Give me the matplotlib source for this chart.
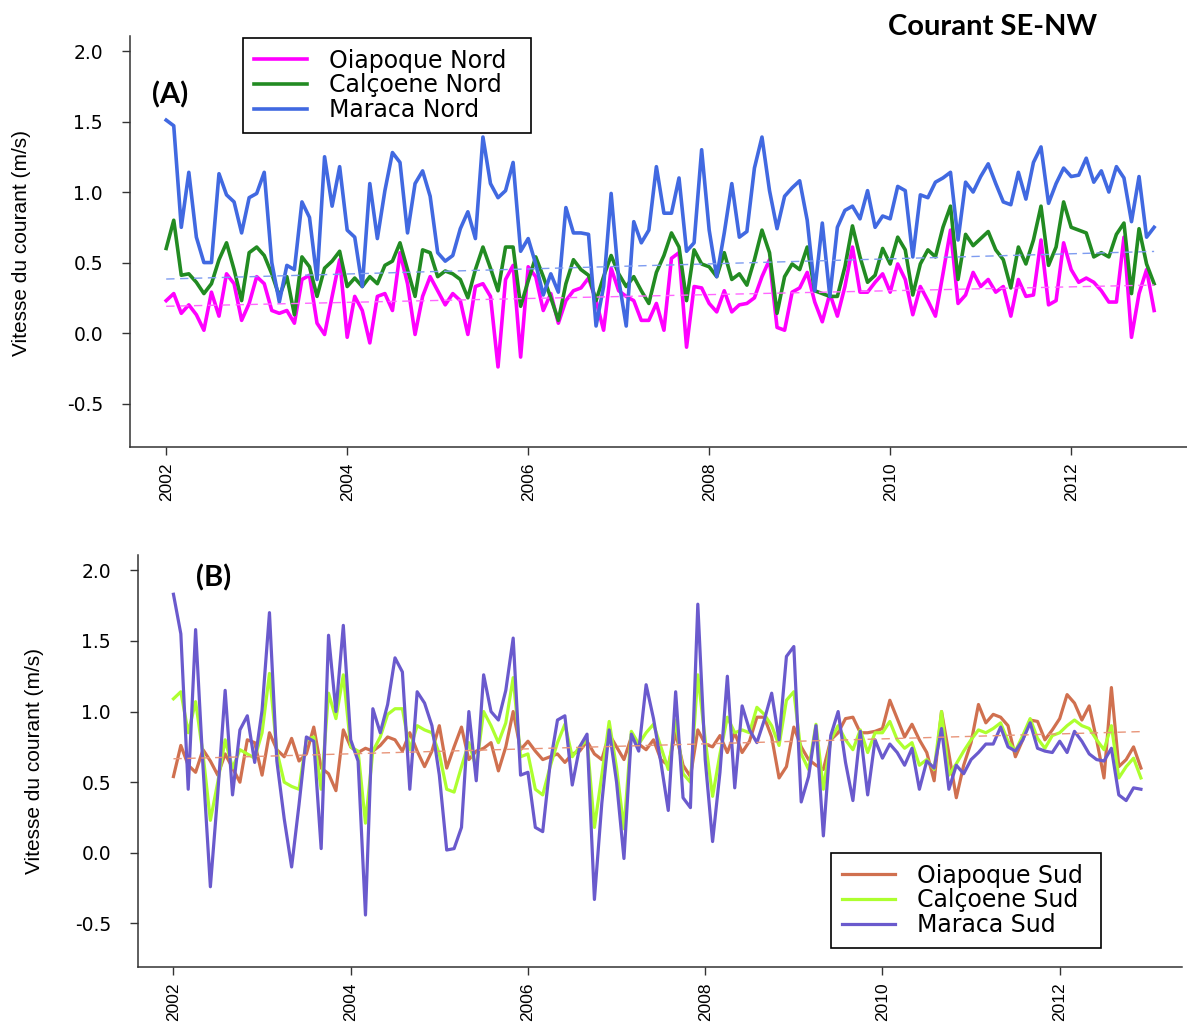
import numpy as np
import matplotlib
matplotlib.use('Agg')
import matplotlib.pyplot as plt
from matplotlib.ticker import FormatStrFormatter

plt.rcParams['axes.unicode_minus'] = False

# vitesses moyennes mensuelles, janvier 2002 - decembre 2012 (m/s)
mois = 2002 + np.arange(132) / 12.0

oiapoque_nord = [0.23, 0.28, 0.14, 0.20, 0.13, 0.02, 0.29, 0.12, 0.42, 0.35, 0.09, 0.21,
                 0.40, 0.35, 0.16, 0.14, 0.16, 0.07, 0.38, 0.41, 0.07, -0.01, 0.26, 0.52,
                 -0.03, 0.26, 0.16, -0.07, 0.26, 0.28, 0.16, 0.57, 0.35, -0.01, 0.26, 0.40,
                 0.30, 0.20, 0.28, 0.23, -0.01, 0.33, 0.35, 0.26, -0.24, 0.38, 0.48, -0.17,
                 0.47, 0.40, 0.16, 0.28, 0.07, 0.23, 0.30, 0.32, 0.39, 0.23, 0.02, 0.46,
                 0.30, 0.26, 0.23, 0.09, 0.09, 0.21, 0.02, 0.53, 0.57, -0.10, 0.33, 0.32,
                 0.21, 0.15, 0.30, 0.15, 0.20, 0.21, 0.25, 0.40, 0.52, 0.04, 0.02, 0.29,
                 0.32, 0.43, 0.22, 0.08, 0.28, 0.12, 0.33, 0.61, 0.29, 0.29, 0.36, 0.42,
                 0.29, 0.49, 0.38, 0.13, 0.33, 0.23, 0.12, 0.42, 0.73, 0.21, 0.27, 0.43,
                 0.33, 0.38, 0.29, 0.33, 0.12, 0.38, 0.26, 0.27, 0.66, 0.20, 0.23, 0.64,
                 0.45, 0.36, 0.39, 0.36, 0.30, 0.22, 0.22, 0.68, -0.03, 0.28, 0.45, 0.16]

calcoene_nord = [0.60, 0.80, 0.41, 0.42, 0.36, 0.28, 0.35, 0.52, 0.64, 0.45, 0.23, 0.57,
                 0.61, 0.55, 0.42, 0.26, 0.40, 0.13, 0.54, 0.47, 0.26, 0.46, 0.51, 0.58,
                 0.33, 0.39, 0.33, 0.40, 0.35, 0.48, 0.51, 0.64, 0.45, 0.26, 0.59, 0.57,
                 0.40, 0.44, 0.42, 0.38, 0.25, 0.45, 0.61, 0.46, 0.30, 0.61, 0.61, 0.19,
                 0.37, 0.54, 0.40, 0.25, 0.09, 0.35, 0.52, 0.45, 0.41, 0.23, 0.40, 0.55,
                 0.42, 0.33, 0.40, 0.30, 0.21, 0.43, 0.55, 0.71, 0.61, 0.23, 0.59, 0.49,
                 0.47, 0.40, 0.57, 0.38, 0.42, 0.34, 0.52, 0.73, 0.57, 0.14, 0.40, 0.49,
                 0.45, 0.61, 0.30, 0.28, 0.26, 0.26, 0.47, 0.76, 0.54, 0.36, 0.41, 0.60,
                 0.49, 0.68, 0.59, 0.27, 0.49, 0.59, 0.54, 0.75, 0.90, 0.38, 0.70, 0.62,
                 0.67, 0.72, 0.59, 0.52, 0.32, 0.61, 0.49, 0.66, 0.90, 0.48, 0.61, 0.93,
                 0.75, 0.73, 0.71, 0.54, 0.57, 0.54, 0.70, 0.78, 0.28, 0.74, 0.49, 0.35]

maraca_nord = [1.51, 1.47, 0.75, 1.14, 0.68, 0.50, 0.50, 1.13, 0.98, 0.93, 0.71, 0.96,
               0.99, 1.14, 0.50, 0.22, 0.48, 0.45, 0.93, 0.82, 0.38, 1.25, 0.90, 1.18,
               0.73, 0.68, 0.33, 1.06, 0.67, 1.01, 1.28, 1.21, 0.71, 1.06, 1.15, 0.97,
               0.57, 0.51, 0.55, 0.74, 0.86, 0.67, 1.39, 1.06, 0.96, 1.01, 1.21, 0.58,
               0.67, 0.49, 0.27, 0.42, 0.29, 0.89, 0.71, 0.71, 0.70, 0.05, 0.33, 0.99,
               0.38, 0.05, 0.79, 0.64, 0.73, 1.18, 0.85, 0.85, 1.10, 0.58, 0.64, 1.30,
               0.73, 0.40, 0.71, 1.06, 0.68, 0.72, 1.17, 1.39, 1.01, 0.74, 0.97, 1.03,
               1.08, 0.80, 0.30, 0.78, 0.26, 0.75, 0.87, 0.90, 0.81, 1.01, 0.75, 0.83,
               0.81, 1.04, 1.01, 0.54, 0.98, 0.96, 1.07, 1.10, 1.14, 0.66, 1.07, 1.00,
               1.11, 1.20, 1.06, 0.93, 0.91, 1.14, 0.95, 1.21, 1.32, 0.92, 1.06, 1.17,
               1.11, 1.12, 1.24, 1.07, 1.15, 1.00, 1.18, 1.10, 0.79, 1.11, 0.68, 0.75]

oiapoque_sud = [0.54, 0.76, 0.62, 0.57, 0.73, 0.65, 0.55, 0.70, 0.60, 0.50, 0.80, 0.78,
                0.55, 0.85, 0.73, 0.68, 0.81, 0.65, 0.70, 0.89, 0.60, 0.56, 0.44, 0.87,
                0.75, 0.71, 0.74, 0.72, 0.76, 0.82, 0.80, 0.72, 0.85, 0.72, 0.61, 0.72,
                0.90, 0.60, 0.75, 0.89, 0.66, 0.72, 0.74, 0.78, 0.58, 0.75, 1.00, 0.73,
                0.79, 0.72, 0.66, 0.68, 0.70, 0.64, 0.70, 0.72, 0.79, 0.70, 0.66, 0.84,
                0.75, 0.66, 0.82, 0.77, 0.73, 0.80, 0.66, 0.62, 0.85, 0.62, 0.54, 0.87,
                0.77, 0.75, 0.83, 0.71, 0.85, 0.71, 0.79, 0.96, 0.96, 0.82, 0.53, 0.61,
                0.89, 0.75, 0.66, 0.62, 0.59, 0.80, 0.85, 0.95, 0.96, 0.85, 0.85, 0.86,
                0.88, 1.08, 0.95, 0.82, 0.91, 0.80, 0.71, 0.51, 1.00, 0.70, 0.39, 0.62,
                0.78, 1.05, 0.92, 0.98, 0.96, 0.90, 0.68, 0.80, 0.94, 0.93, 0.80, 0.87,
                0.95, 1.12, 1.06, 0.94, 1.04, 0.80, 0.53, 1.17, 0.61, 0.66, 0.75, 0.60]

calcoene_sud = [1.09, 1.14, 0.85, 1.07, 0.70, 0.23, 0.50, 0.80, 0.60, 0.73, 0.70, 0.67,
                0.85, 1.27, 0.72, 0.50, 0.47, 0.45, 0.80, 0.82, 0.45, 1.13, 0.95, 1.26,
                0.75, 0.72, 0.21, 0.72, 0.82, 0.98, 1.02, 1.02, 0.73, 0.90, 0.87, 0.85,
                0.70, 0.45, 0.43, 0.61, 0.78, 0.60, 1.00, 0.90, 0.78, 0.92, 1.24, 0.68,
                0.70, 0.45, 0.41, 0.61, 0.78, 0.91, 0.68, 0.75, 0.80, 0.18, 0.55, 0.93,
                0.60, 0.17, 0.86, 0.77, 0.85, 0.91, 0.75, 0.59, 0.94, 0.56, 0.50, 1.26,
                0.80, 0.40, 0.70, 0.96, 0.85, 0.87, 0.85, 1.03, 0.98, 0.90, 0.76, 1.08,
                1.14, 0.70, 0.59, 0.91, 0.45, 0.80, 0.90, 0.80, 0.73, 0.87, 0.71, 0.85,
                0.85, 0.93, 0.80, 0.74, 0.78, 0.62, 0.66, 0.59, 1.00, 0.55, 0.63, 0.72,
                0.80, 0.87, 0.85, 0.88, 0.92, 0.79, 0.72, 0.83, 0.95, 0.81, 0.74, 0.83,
                0.85, 0.90, 0.94, 0.90, 0.88, 0.80, 0.73, 0.90, 0.53, 0.61, 0.67, 0.53]

maraca_sud = [1.83, 1.55, 0.45, 1.58, 0.61, -0.24, 0.42, 1.15, 0.41, 0.87, 0.97, 0.64,
              1.01, 1.70, 0.65, 0.24, -0.10, 0.34, 0.82, 0.79, 0.03, 1.54, 1.00, 1.61,
              0.80, 0.65, -0.44, 1.02, 0.85, 1.05, 1.38, 1.28, 0.45, 1.14, 1.06, 0.90,
              0.55, 0.02, 0.03, 0.18, 1.00, 0.51, 1.26, 1.00, 0.94, 1.15, 1.52, 0.55,
              0.57, 0.18, 0.15, 0.63, 0.94, 0.97, 0.48, 0.75, 0.84, -0.33, 0.35, 0.87,
              0.50, -0.04, 0.84, 0.72, 1.19, 0.95, 0.64, 0.30, 1.14, 0.39, 0.32, 1.76,
              0.66, 0.08, 0.57, 1.25, 0.46, 1.04, 0.87, 0.78, 0.94, 1.13, 0.80, 1.39,
              1.46, 0.36, 0.54, 0.90, 0.12, 0.83, 1.00, 0.64, 0.37, 0.86, 0.41, 0.80,
              0.67, 0.77, 0.71, 0.62, 0.74, 0.45, 0.65, 0.60, 0.88, 0.45, 0.62, 0.56,
              0.66, 0.71, 0.77, 0.77, 0.89, 0.75, 0.72, 0.80, 0.92, 0.74, 0.72, 0.71,
              0.79, 0.71, 0.86, 0.79, 0.70, 0.66, 0.65, 0.74, 0.41, 0.37, 0.46, 0.45]

annees = [2002, 2004, 2006, 2008, 2010, 2012]
graduations = [-0.5, 0.0, 0.5, 1.0, 1.5, 2.0]

W, H = 1187.0, 1023.0
fig = plt.figure(figsize=(W / 100, H / 100), dpi=100)


def cadre(x0, x1, y0, y1, xmax):
    ax = fig.add_axes([x0 / W, 1 - y1 / H, (x1 - x0) / W, (y1 - y0) / H])
    ax.set_xlim(2001.6, xmax)
    ax.set_ylim(-0.808, 2.108)
    for s in ['top', 'right']:
        ax.spines[s].set_visible(False)
    for s in ['left', 'bottom']:
        ax.spines[s].set_linewidth(1.1)
        ax.spines[s].set_color('#333333')
    ax.set_xticks(annees)
    ax.set_yticks(graduations)
    ax.yaxis.set_major_formatter(FormatStrFormatter('%.1f'))
    ax.tick_params(axis='y', direction='out', length=6, width=1, colors='#333333',
                   labelcolor='black', labelsize=13.5, pad=13.5)
    ax.tick_params(axis='x', direction='out', length=6, width=1, colors='#333333',
                   labelcolor='black', labelsize=12.5, pad=5, labelrotation=90)
    for lab in ax.get_yticklabels():
        lab.set_family('DejaVu Sans')
    for lab in ax.get_xticklabels():
        lab.set_family('Liberation Sans')
    return ax


def tendance(ax, y, couleur):
    a, b = np.polyfit(mois, y, 1)
    ax.plot(mois, a * mois + b, color=couleur, lw=1.0, ls=(0, (6, 4)))


def legende(ax, x0, y0, x1, y1):
    leg = ax.legend(loc='upper left', mode='expand',
                    bbox_to_anchor=(x0 / W, 1 - y1 / H, (x1 - x0) / W, (y1 - y0) / H),
                    bbox_transform=fig.transFigure, borderaxespad=0,
                    fancybox=False, framealpha=1, edgecolor='black',
                    prop=dict(family='DejaVu Sans', size=17),
                    handlelength=2.25, handletextpad=0.93, labelspacing=0.03,
                    borderpad=0.45)
    leg.get_frame().set_linewidth(1.2)


# (A) stations nord
ax1 = cadre(130, 1187, 35.8, 447, 2013.28)
ax1.plot(mois, oiapoque_nord, color='#FF00FF', lw=2.6, label='Oiapoque Nord')
ax1.plot(mois, calcoene_nord, color='#228B22', lw=2.6, label='Calçoene Nord')
ax1.plot(mois, maraca_nord, color='#4169E1', lw=2.6, label='Maraca Nord')
tendance(ax1, calcoene_nord, '#7E9CF0')
tendance(ax1, oiapoque_nord, '#FF66FF')
legende(ax1, 243, 38, 531, 132)

# (B) stations sud
ax2 = cadre(138, 1182, 555, 967, 2013.38)
ax2.plot(mois, oiapoque_sud, color='#D0704F', lw=2.3, label='Oiapoque Sud')
ax2.plot(mois, calcoene_sud, color='#ADFF2F', lw=2.3, label='Calçoene Sud')
ax2.plot(mois, maraca_sud, color='#6A5ACD', lw=2.3, label='Maraca Sud')
tendance(ax2, oiapoque_sud, '#E8957A')
legende(ax2, 831, 853, 1101, 949)

for xc, yc in [(22, 243), (35, 761)]:
    fig.text(xc / W, 1 - yc / H, 'Vitesse du courant (m/s)', rotation=90,
             ha='center', va='center', size=15, family='Liberation Sans')

fig.text(993 / W, 1 - 27 / H, 'Courant SE-NW', ha='center', va='center',
         size=21, weight='bold', family='Lato')
fig.text(170 / W, 1 - 95 / H, '(A)', ha='center', va='center',
         size=21, weight='bold', family='Lato')
fig.text(214 / W, 1 - 578 / H, '(B)', ha='center', va='center',
         size=21, weight='bold', family='Lato')

fig.savefig('out.png', dpi=100)
